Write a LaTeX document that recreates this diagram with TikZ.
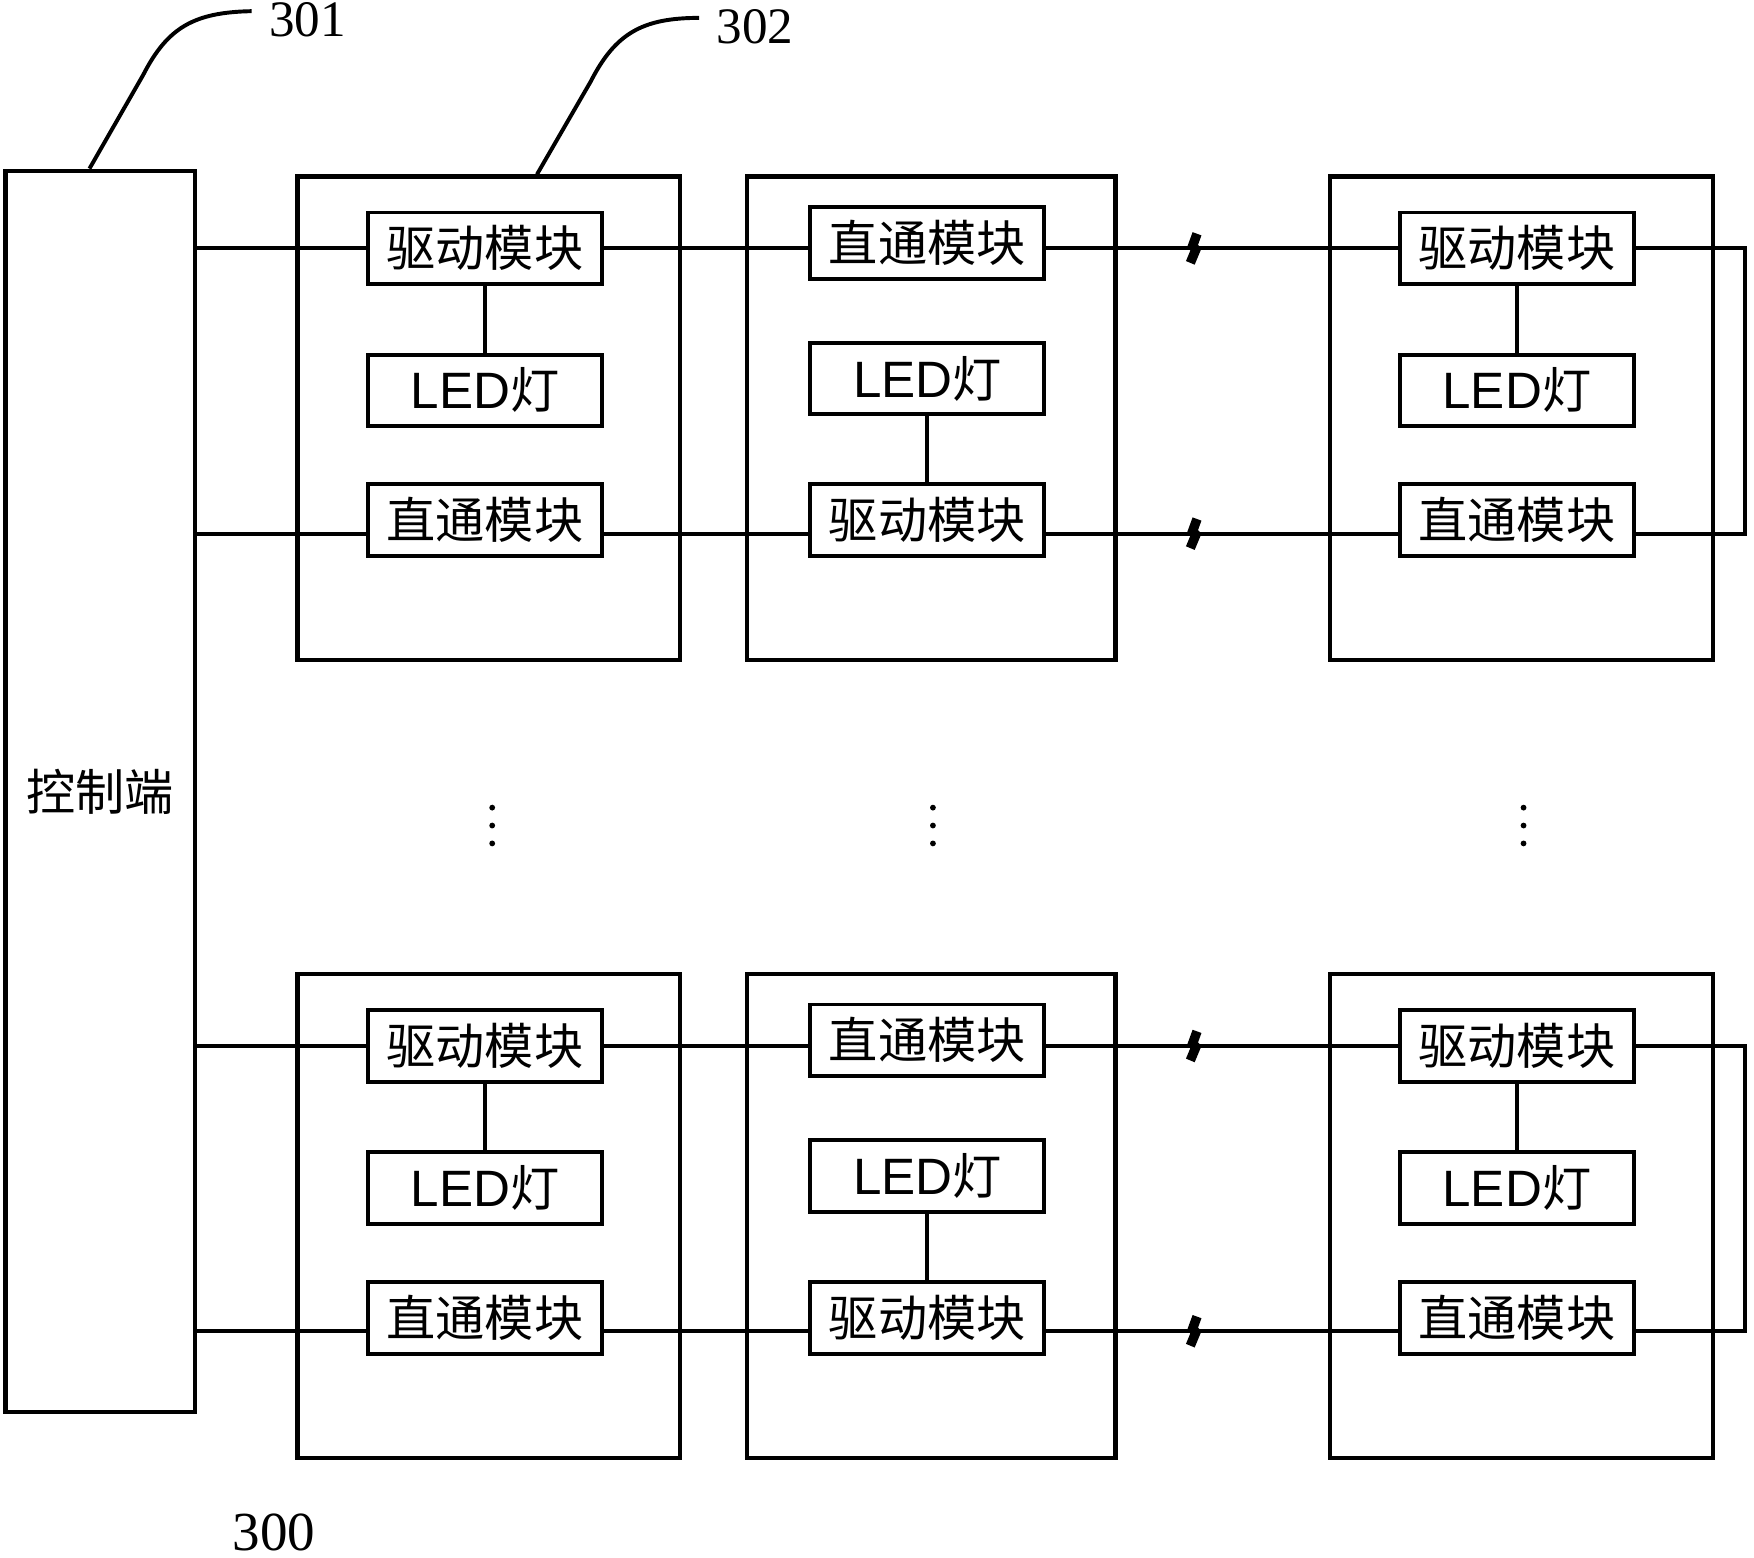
\documentclass[tikz,border=0pt]{standalone}
\usepackage{fontspec}
\setmainfont{Liberation Serif}
\newfontfamily\cjk{Noto Sans CJK SC}
\newfontfamily\lat{Liberation Sans}
\usetikzlibrary{calc}
\tikzset{
  blk/.style={draw, line width=1pt, minimum width=2.09cm, minimum height=0.64cm, inner sep=0pt, font=\cjk\fontsize{12.5}{13}\selectfont},
  unit/.style={draw, line width=1.1pt, minimum height=4.32cm, inner sep=0pt},
  wire/.style={line width=1pt},
  num/.style={font=\fontsize{13}{13}\selectfont, inner sep=0.15cm},
  brk/.pic={\draw [line width=2.4pt] (4,-13) -- (0,-2) -- (3,1) -- (-2,13);},
}
\newcommand{\ledtxt}{{\lat\fontsize{13}{13}\selectfont LED}灯}

\begin{document}
\begin{tikzpicture}[x=0.01cm, y=-0.01cm]
\useasboundingbox (0,0) rectangle (1568,1392);

\node [draw, line width=1.1pt, minimum width=1.69cm, minimum height=11.09cm, inner sep=0pt, font=\cjk\fontsize{12.5}{13}\selectfont] (ctrl) at (89.5,707.5) {控制端};

\foreach \r/\dy in {a/0, b/713} {
  \node [unit, minimum width=3.42cm] (u1\r) at (437,374+\dy) {};
  \node [unit, minimum width=3.29cm] (u2\r) at (832.5,374+\dy) {};
  \node [unit, minimum width=3.42cm] (u3\r) at (1360,374+\dy) {};

  \node [blk] (d1\r) at (433.5,222+\dy) {驱动模块};
  \node [blk] (l1\r) at (433.5,349+\dy) {\ledtxt};
  \node [blk] (t1\r) at (433.5,465+\dy) {直通模块};
  \node [blk] (t2\r) at (829,217+\dy) {直通模块};
  \node [blk] (l2\r) at (829,338.5+\dy) {\ledtxt};
  \node [blk] (d2\r) at (829,465+\dy) {驱动模块};
  \node [blk] (d3\r) at (1356,222+\dy) {驱动模块};
  \node [blk] (l3\r) at (1356,349+\dy) {\ledtxt};
  \node [blk] (t3\r) at (1356,465+\dy) {直通模块};

  \coordinate (w\r) at ($(t1\r.west)+(0,12)$);

  \draw [wire] (ctrl.east |- d1\r.west) -- (d1\r.west);
  \draw [wire] (d1\r.east) -- (d1\r.east -| t2\r.west);
  \draw [wire] (t2\r.east |- d1\r.east) -- (d3\r.west) pic [pos=0.416] {brk};
  \draw [wire] (ctrl.east |- w\r) -- (w\r);
  \draw [wire] (w\r -| t1\r.east) -- (w\r -| d2\r.west);
  \draw [wire] (w\r -| d2\r.east) -- (w\r -| t3\r.west) pic [pos=0.416] {brk};
  \draw [wire] (d3\r.east) -- ++(98,0) |- (w\r -| t3\r.east);

  \draw [wire] (d1\r.south) -- (l1\r.north);
  \draw [wire] (l2\r.south) -- (d2\r.north);
  \draw [wire] (d3\r.south) -- (l3\r.north);
}

\foreach \x in {440,834,1362}
  \foreach \y in {722,738,754}
    \fill (\x,\y) circle (2.6);

\node [num, anchor=west] (n301) at (225,18) {301};
\draw [wire] ([xshift=-0.095cm]ctrl.north) -- (128,67) .. controls (150,24) and (174,11) .. ([yshift=0.08cm]n301.west);
\node [num, anchor=west] (n302) at (625,24) {302};
\draw [wire] ([xshift=0.43cm]u1a.north) -- (528,73) .. controls (550,30) and (574,16) .. ([yshift=0.08cm]n302.west);
\node [font=\fontsize{14}{14}\selectfont] (n300) at (245,1370) {300};
\end{tikzpicture}
\end{document}
